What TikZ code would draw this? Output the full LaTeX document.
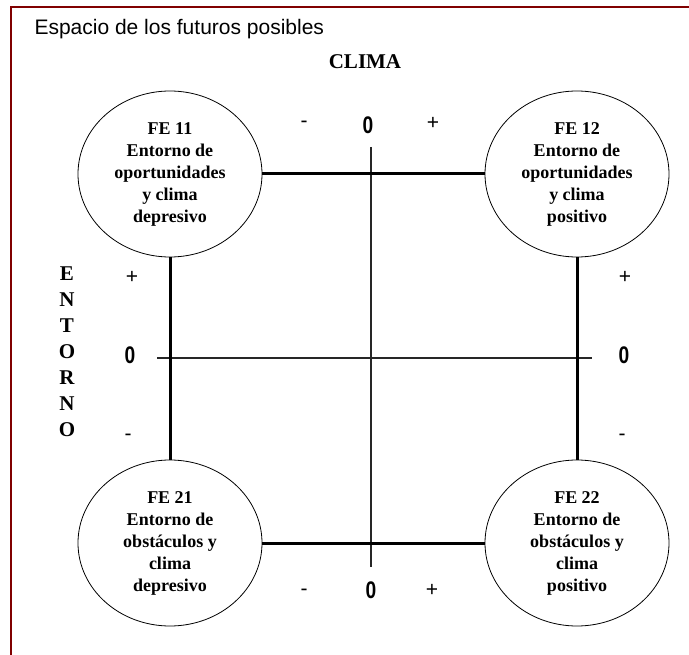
\documentclass[tikz,border=0pt]{standalone}
\usepackage{fontspec}
\usepackage{xcolor}
\usepackage{graphicx}
\setmainfont{Liberation Serif}
\setsansfont{Liberation Sans}
\usetikzlibrary{shapes.geometric}
\definecolor{framered}{RGB}{128,0,0}

\begin{document}
\begin{tikzpicture}[
    x=1pt, y=-1pt,
    frameline/.style={draw=framered, line width=2pt},
    futurebox/.style={ellipse, draw=black, line width=0.8pt, minimum width=184pt, minimum height=166pt, inner sep=0pt, align=center, font=\bfseries\fontsize{18}{22}\selectfont},
    link/.style={draw=black, line width=3pt},
    axisline/.style={draw=black!85, line width=1.5pt},
    headline/.style={font=\sffamily\fontsize{21}{21}\selectfont, anchor=west},
    axisname/.style={font=\bfseries\fontsize{21}{26}\selectfont, align=center},
    sign/.style={font=\sffamily\fontsize{21}{21}\selectfont},
    zero/.style={font=\sffamily\bfseries\fontsize{24}{24}\selectfont}
]
\useasboundingbox (0,0) rectangle (689,655);
\draw[frameline] (11,660) -- (11,7) -- (694,7);
\node[headline] (title) at (31,29) {Espacio de los futuros posibles};
\node[axisname] (clima) at (365,62) {CLIMA};
\node[axisname] (entorno) at (67,352) {E\\N\\T\\O\\R\\N\\O};
% axes
\coordinate (vtop) at (371,147);
\coordinate (vbot) at (371,567);
\coordinate (hleft) at (157,358);
\coordinate (hright) at (592,358);
\draw[axisline] (vtop) -- (vbot);
\draw[axisline] (hleft) -- (hright);
% futures
\node[futurebox] (fe11) at (170,174) {FE 11\\Entorno de\\oportunidades\\y clima\\depresivo};
\node[futurebox] (fe12) at (577,174) {FE 12\\Entorno de\\oportunidades\\y clima\\positivo};
\node[futurebox] (fe21) at (170,543) {FE 21\\Entorno de\\obstáculos y\\clima\\depresivo};
\node[futurebox] (fe22) at (577,543) {FE 22\\Entorno de\\obstáculos y\\clima\\positivo};
\draw[link] (fe11.east) -- (fe12.west);
\draw[link] (fe21.east) -- (fe22.west);
\draw[link] (fe11.south) -- (fe21.north);
\draw[link] (fe12.south) -- (fe22.north);
% scale marks
\node[sign] (tminus) at (304,124) {-};
\node[zero] (tzero) at (368,125) {\scalebox{0.8}[1]{0}};
\node[sign] (tplus) at (433,123) {+};
\node[sign] (lplus) at (132,277) {+};
\node[zero] (lzero) at (130,355) {\scalebox{0.8}[1]{0}};
\node[sign] (lminus) at (128,437) {-};
\node[sign] (rplus) at (625,277) {+};
\node[zero] (rzero) at (624,355) {\scalebox{0.8}[1]{0}};
\node[sign] (rminus) at (622,437) {-};
\node[sign] (bminus) at (304,592) {-};
\node[zero] (bzero) at (371,590) {\scalebox{0.8}[1]{0}};
\node[sign] (bplus) at (432,590) {+};
\end{tikzpicture}
\end{document}
